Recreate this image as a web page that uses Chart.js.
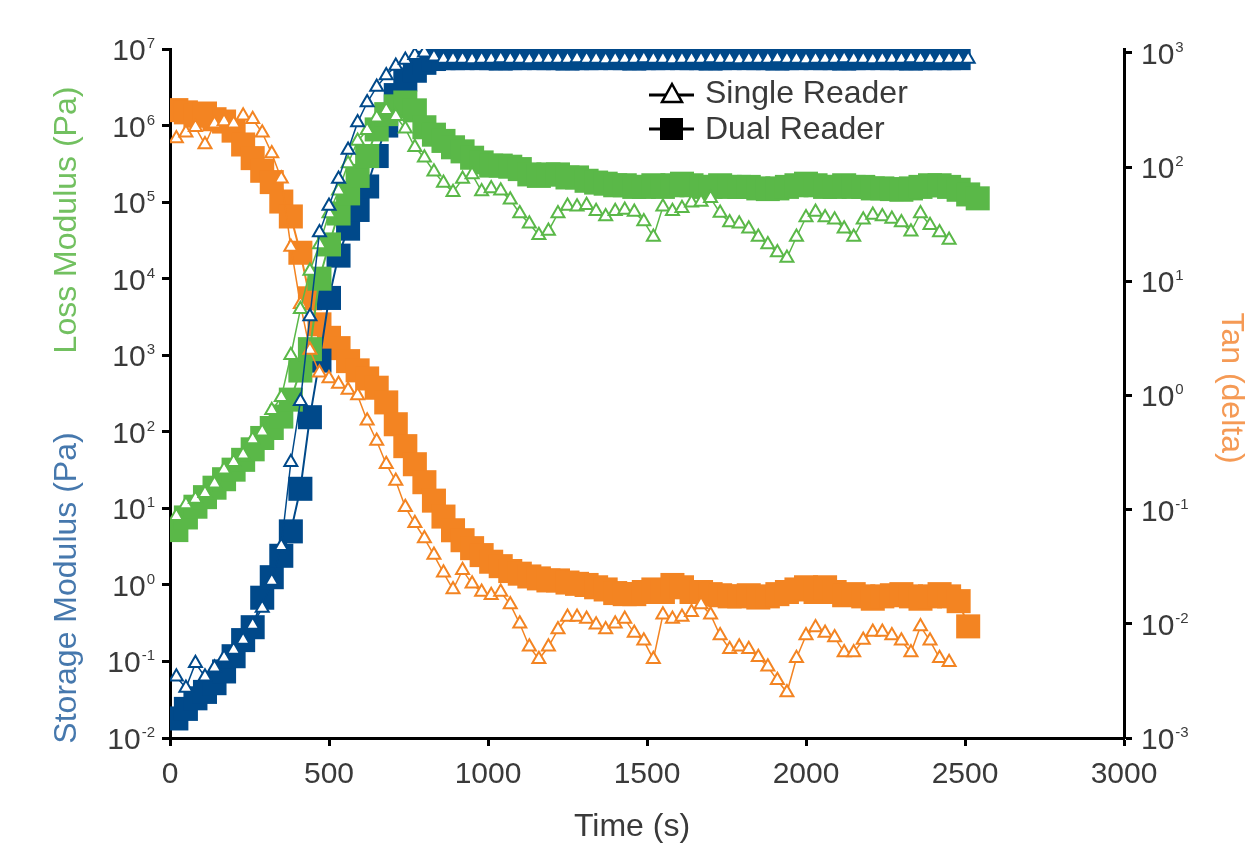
<!DOCTYPE html>
<html>
<head>
<meta charset="utf-8">
<script src="https://cdn.jsdelivr.net/npm/chart.js@4.4.1/dist/chart.umd.min.js"></script>
<style>
  html, body { margin: 0; padding: 0; background: #fff; }
</style>
</head>
<body>
<canvas id="rheoChart" width="1248" height="847"></canvas>
<script>
// time points (s)
const times = [
  20, 50, 80, 110, 140, 170, 200, 230, 260, 290,
  320, 350, 380, 410, 440, 470, 500, 530, 560, 590,
  620, 650, 680, 710, 740, 770, 800, 830, 860, 890,
  920, 950, 980, 1010, 1040, 1070, 1100, 1130, 1160, 1190,
  1220, 1250, 1280, 1310, 1340, 1370, 1400, 1430, 1460, 1490,
  1520, 1550, 1580, 1610, 1640, 1670, 1700, 1730, 1760, 1790,
  1820, 1850, 1880, 1910, 1940, 1970, 2000, 2030, 2060, 2090,
  2120, 2150, 2180, 2210, 2240, 2270, 2300, 2330, 2360, 2390,
  2420, 2450, 2480, 2510, 2540
];

// storage modulus (Pa)
const storageSingle = [
  0.063, 0.045, 0.095, 0.063, 0.083, 0.112, 0.141, 0.19, 0.30, 0.50,
  1.12, 3.2, 40, 250, 3200, 4.0e4, 8.9e4, 2.0e5, 4.8e5, 1.1e6,
  2.0e6, 3.2e6, 4.5e6, 6.0e6, 7.2e6, 8.3e6, 8.9e6, 7.9e6, 7.4e6, 7.4e6,
  7.4e6, 7.3e6, 7.4e6, 7.4e6, 7.5e6, 7.4e6, 7.4e6, 7.3e6, 7.4e6, 7.4e6,
  7.4e6, 7.4e6, 7.5e6, 7.4e6, 7.4e6, 7.3e6, 7.4e6, 7.4e6, 7.4e6, 7.5e6,
  7.4e6, 7.4e6, 7.3e6, 7.4e6, 7.4e6, 7.4e6, 7.5e6, 7.4e6, 7.4e6, 7.3e6,
  7.4e6, 7.4e6, 7.4e6, 7.5e6, 7.4e6, 7.4e6, 7.3e6, 7.4e6, 7.4e6, 7.4e6,
  7.5e6, 7.4e6, 7.4e6, 7.3e6, 7.4e6, 7.4e6, 7.4e6, 7.5e6, 7.4e6, 7.4e6,
  7.3e6, 7.4e6, 7.4e6, 7.4e6, null
];
const storageDual = [
  0.018, 0.024, 0.033, 0.040, 0.052, 0.074, 0.117, 0.19, 0.28, 0.68,
  1.26, 2.4, 5.0, 18, 155, 850, 5600, 2.0e4, 4.5e4, 7.9e4,
  1.6e5, 4.0e5, 1.0e6, 2.5e6, 4.0e6, 5.2e6, 6.6e6, 7.4e6, 7.6e6, 7.6e6,
  7.6e6, 7.7e6, 7.6e6, 7.6e6, 7.5e6, 7.6e6, 7.6e6, 7.7e6, 7.6e6, 7.6e6,
  7.6e6, 7.5e6, 7.6e6, 7.6e6, 7.6e6, 7.7e6, 7.6e6, 7.6e6, 7.5e6, 7.6e6,
  7.6e6, 7.6e6, 7.7e6, 7.6e6, 7.6e6, 7.6e6, 7.5e6, 7.6e6, 7.6e6, 7.7e6,
  7.6e6, 7.6e6, 7.6e6, 7.5e6, 7.6e6, 7.6e6, 7.7e6, 7.6e6, 7.6e6, 7.6e6,
  7.5e6, 7.6e6, 7.6e6, 7.7e6, 7.6e6, 7.6e6, 7.6e6, 7.5e6, 7.6e6, 7.6e6,
  7.6e6, 7.6e6, 7.6e6, null, null
];

// loss modulus (Pa)
const lossSingle = [
  7.9, 11.2, 13.2, 15.8, 21, 32, 40, 50, 79, 100,
  191, 282, 1000, 3980, 1.26e4, 2.8e4, 7.1e4, 1.41e5, 3.2e5, 6.3e5,
  8.7e5, 1.26e6, 1.58e6, 1.32e6, 9.1e5, 5.2e5, 3.8e5, 2.5e5, 1.78e5, 1.35e5,
  2.0e5, 2.3e5, 1.38e5, 1.51e5, 1.41e5, 1.07e5, 7.1e4, 5.2e4, 3.7e4, 4.2e4,
  7.1e4, 8.9e4, 8.7e4, 9.1e4, 7.6e4, 6.5e4, 7.6e4, 7.9e4, 7.4e4, 5.6e4,
  3.5e4, 8.7e4, 7.6e4, 8.3e4, 9.8e4, 1.0e5, 1.12e5, 7.2e4, 5.4e4, 5.2e4,
  4.5e4, 3.5e4, 2.8e4, 2.2e4, 1.86e4, 3.5e4, 6.3e4, 7.4e4, 6.3e4, 5.9e4,
  4.5e4, 3.5e4, 5.9e4, 6.8e4, 6.5e4, 6.0e4, 5.4e4, 4.1e4, 7.1e4, 5.0e4,
  4.0e4, 3.2e4, null, null, null
];
const lossDual = [
  5.2, 7.6, 10.5, 14, 18.6, 24, 32, 43, 59, 83,
  112, 158, 263, 631, 1200, 1.0e4, 2.8e4, 7.1e4, 1.3e5, 2.2e5,
  4.0e5, 8.9e5, 1.41e6, 1.78e6, 2.0e6, 1.58e6, 9.5e5, 7.6e5, 6.3e5, 5.2e5,
  4.6e5, 3.8e5, 3.3e5, 3.0e5, 3.0e5, 2.9e5, 2.7e5, 2.3e5, 2.2e5, 2.3e5,
  2.3e5, 2.1e5, 2.1e5, 1.9e5, 1.8e5, 1.74e5, 1.66e5, 1.66e5, 1.58e5, 1.58e5,
  1.66e5, 1.58e5, 1.66e5, 1.74e5, 1.66e5, 1.58e5, 1.58e5, 1.66e5, 1.58e5, 1.58e5,
  1.58e5, 1.51e5, 1.48e5, 1.51e5, 1.58e5, 1.66e5, 1.74e5, 1.66e5, 1.58e5, 1.58e5,
  1.66e5, 1.58e5, 1.58e5, 1.51e5, 1.51e5, 1.48e5, 1.45e5, 1.51e5, 1.58e5, 1.66e5,
  1.66e5, 1.58e5, 1.45e5, 1.26e5, 1.12e5
];

// tan (delta)
const tanSingle = [
  178, 200, 224, 158, 240, 251, 240, 282, 263, 200,
  132, 79, 20, 6.3, 2.5, 1.58, 1.41, 1.26, 1.12, 1.0,
  0.60, 0.40, 0.25, 0.178, 0.105, 0.076, 0.056, 0.040, 0.028, 0.020,
  0.0295, 0.0224, 0.019, 0.0178, 0.019, 0.0148, 0.010, 0.0063, 0.0049, 0.0063,
  0.0089, 0.0115, 0.0115, 0.011, 0.0098, 0.0089, 0.010, 0.011, 0.0083, 0.0071,
  0.0049, 0.012, 0.011, 0.0115, 0.0126, 0.0148, 0.012, 0.0079, 0.006, 0.0063,
  0.006, 0.0051, 0.0042, 0.0032, 0.0025, 0.005, 0.0079, 0.0093, 0.0083, 0.0076,
  0.0056, 0.0056, 0.0072, 0.0085, 0.0085, 0.0079, 0.0071, 0.0056, 0.0095, 0.0071,
  0.005, 0.0046, null, null, null
];
const tanDual = [
  316, 302, 282, 295, 263, 251, 209, 158, 120, 93,
  74, 50, 37, 17.8, 7.1, 4.2, 3.2, 2.6, 2.0, 1.66,
  1.41, 1.17, 0.87, 0.56, 0.36, 0.25, 0.174, 0.12, 0.087, 0.066,
  0.054, 0.046, 0.040, 0.035, 0.032, 0.029, 0.0275, 0.026, 0.025, 0.024,
  0.024, 0.023, 0.0224, 0.0219, 0.0209, 0.020, 0.0186, 0.0182, 0.0182, 0.019,
  0.020, 0.019, 0.0219, 0.0209, 0.019, 0.019, 0.0182, 0.0178, 0.0174, 0.0174,
  0.0178, 0.017, 0.0174, 0.0182, 0.019, 0.020, 0.0209, 0.019, 0.0209, 0.019,
  0.0178, 0.0182, 0.0174, 0.0166, 0.0174, 0.0178, 0.0182, 0.0174, 0.0166, 0.0174,
  0.0182, 0.0174, 0.0158, 0.0095, null
];

// axis ticks
const timeTicks = [0, 500, 1000, 1500, 2000, 2500, 3000];
const modulusTicks = [1e-2, 1e-1, 1e0, 1e1, 1e2, 1e3, 1e4, 1e5, 1e6, 1e7];
const tanTicks = [1e-3, 1e-2, 1e-1, 1e0, 1e1, 1e2, 1e3];

const BLUE = '#00498a';
const GREEN = '#5ab848';
const ORANGE = '#f38422';
const FONT = '"Liberation Sans", Arial, sans-serif';

function toPoints(values) {
  return times.map((t, i) => ({ x: t, y: values[i] })).filter(p => p.y !== null);
}

function singleSet(label, values, color, axis) {
  return {
    label: label,
    data: toPoints(values),
    yAxisID: axis,
    borderColor: color,
    borderWidth: 1.5,
    backgroundColor: '#fff',
    pointStyle: 'triangle',
    pointRadius: 7.5,
    pointBorderWidth: 2,
    pointBorderColor: color,
    pointBackgroundColor: '#fff'
  };
}

function dualSet(label, values, color, axis) {
  return {
    label: label,
    data: toPoints(values),
    yAxisID: axis,
    borderColor: color,
    borderWidth: 2,
    backgroundColor: color,
    pointStyle: 'rect',
    pointRadius: 17,
    pointBorderWidth: 0,
    pointBackgroundColor: color
  };
}

// first dataset is drawn on top
const datasets = [
  singleSet('Storage Single', storageSingle, BLUE, 'yMod'),
  singleSet('Loss Single', lossSingle, GREEN, 'yMod'),
  singleSet('Tan Single', tanSingle, ORANGE, 'yTan'),
  dualSet('Loss Dual', lossDual, GREEN, 'yMod'),
  dualSet('Storage Dual', storageDual, BLUE, 'yMod'),
  dualSet('Tan Dual', tanDual, ORANGE, 'yTan')
];

function setTicks(list) {
  return function(scale) {
    scale.ticks = list.map(v => ({ value: v }));
  };
}

const axisLine = { color: '#000', width: 3 };
const tickMarks = { drawOnChartArea: false, tickLength: 8, tickWidth: 3, tickColor: '#000' };

function powerLabel(ctx, v, x, y, align) {
  const exp = String(Math.round(Math.log10(v)));
  ctx.font = '15px ' + FONT;
  const ew = ctx.measureText(exp).width;
  ctx.font = '30px ' + FONT;
  const bw = ctx.measureText('10').width;
  const x0 = align === 'right' ? x - ew - bw - 1 : x;
  ctx.fillText('10', x0, y + 11);
  ctx.font = '15px ' + FONT;
  ctx.fillText(exp, x0 + bw + 1, y - 1);
}

// tick labels, axis titles and legend
const decorPlugin = {
  id: 'decor',
  afterDraw(chart) {
    const ctx = chart.ctx;
    const sx = chart.scales.x, sm = chart.scales.yMod, st = chart.scales.yTan;
    ctx.save();
    ctx.fillStyle = '#3a3a3a';
    ctx.textBaseline = 'alphabetic';

    ctx.font = '30px ' + FONT;
    ctx.textAlign = 'center';
    timeTicks.forEach(v => ctx.fillText(String(v), sx.getPixelForValue(v), 783));

    ctx.textAlign = 'left';
    modulusTicks.forEach(v => powerLabel(ctx, v, 155, sm.getPixelForValue(v), 'right'));
    tanTicks.forEach(v => powerLabel(ctx, v, 1141, st.getPixelForValue(v), 'left'));

    // axis titles
    ctx.font = '32px ' + FONT;
    ctx.textAlign = 'center';
    ctx.fillText('Time (s)', 632, 836);

    ctx.save();
    ctx.translate(76, 220);
    ctx.rotate(-Math.PI / 2);
    ctx.fillStyle = '#72c060';
    ctx.fillText('Loss Modulus (Pa)', 0, 0);
    ctx.restore();

    ctx.save();
    ctx.translate(76, 588);
    ctx.rotate(-Math.PI / 2);
    ctx.fillStyle = '#4678ad';
    ctx.fillText('Storage Modulus (Pa)', 0, 0);
    ctx.restore();

    ctx.save();
    ctx.translate(1222, 388);
    ctx.rotate(Math.PI / 2);
    ctx.fillStyle = '#f59a55';
    ctx.fillText('Tan (delta)', 0, 0);
    ctx.restore();

    // legend
    ctx.strokeStyle = '#000';
    ctx.lineWidth = 3;
    ctx.beginPath();
    ctx.moveTo(649, 95); ctx.lineTo(694, 95);
    ctx.moveTo(649, 129); ctx.lineTo(694, 129);
    ctx.stroke();

    ctx.beginPath();
    ctx.moveTo(672, 84); ctx.lineTo(682, 102); ctx.lineTo(662, 102); ctx.closePath();
    ctx.fillStyle = '#fff';
    ctx.fill();
    ctx.lineWidth = 2.5;
    ctx.stroke();

    ctx.fillStyle = '#000';
    ctx.fillRect(660, 118, 23, 22);

    ctx.fillStyle = '#3a3a3a';
    ctx.font = '32px ' + FONT;
    ctx.textAlign = 'left';
    ctx.fillText('Single Reader', 705, 103);
    ctx.fillText('Dual Reader', 705, 139);
    ctx.restore();
  }
};

const ctx = document.getElementById('rheoChart').getContext('2d');
const rheoChart = new Chart(ctx, {
  type: 'line',
  data: { datasets: datasets },
  options: {
    responsive: false,
    devicePixelRatio: 1,
    animation: false,
    layout: { padding: { top: 49, left: 0, right: 0, bottom: 0 } },
    elements: { line: { tension: 0 } },
    plugins: { legend: { display: false }, tooltip: { enabled: false } },
    scales: {
      x: {
        type: 'linear',
        min: 0,
        max: 3000,
        afterBuildTicks: setTicks(timeTicks),
        afterFit: s => { s.height = 109; },
        ticks: { display: false },
        grid: tickMarks,
        border: axisLine
      },
      yMod: {
        type: 'logarithmic',
        position: 'left',
        min: 1e-2,
        max: 1e7,
        afterBuildTicks: setTicks(modulusTicks),
        afterFit: s => { s.width = 170; },
        ticks: { display: false },
        grid: tickMarks,
        border: axisLine
      },
      yTan: {
        type: 'logarithmic',
        position: 'right',
        min: 1e-3,
        max: 1084,
        afterBuildTicks: setTicks(tanTicks),
        afterFit: s => { s.width = 124; },
        ticks: { display: false },
        grid: tickMarks,
        border: axisLine
      }
    }
  },
  plugins: [decorPlugin]
});
</script>
</body>
</html>
